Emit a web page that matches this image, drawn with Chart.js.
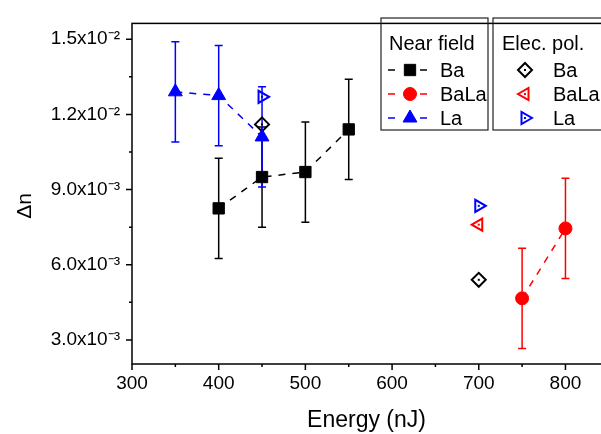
<!DOCTYPE html>
<html>
<head>
<meta charset="utf-8">
<script src="https://cdn.jsdelivr.net/npm/chart.js@4.4.1/dist/chart.umd.min.js"></script>
<style>
  html, body { margin: 0; padding: 0; background: #fff; }
  #wrap { width: 601px; height: 434px; }
</style>
</head>
<body>
<div id="wrap"><canvas id="chart" width="601" height="434"></canvas></div>
<script>
// Near field series (with error bars)
const nfBaX = [400, 450, 500, 550];
const nfBaY = [0.00825, 0.0095, 0.0097, 0.0114];
const nfBaErr = [0.002, 0.002, 0.002, 0.002];

const nfBaLaX = [750, 800];
const nfBaLaY = [0.00466, 0.00745];
const nfBaLaErr = [0.002, 0.002];

const nfLaX = [350, 400, 450];
const nfLaY = [0.0129, 0.01275, 0.0111];
const nfLaErr = [0.002, 0.002, 0.002];

// Elec. pol. series
const epBaX = [450, 700];
const epBaY = [0.0116, 0.0054];
const epBaLaX = [700];
const epBaLaY = [0.0076];
const epLaX = [450, 700];
const epLaY = [0.0127, 0.00835];

// axis ticks
const xTicks = [300, 400, 500, 600, 700, 800];
const yTicks = [0.003, 0.006, 0.009, 0.012, 0.015];
const yTickLabels = ['3.0x10\u207B\u00B3', '6.0x10\u207B\u00B3', '9.0x10\u207B\u00B3', '1.2x10\u207B\u00B2', '1.5x10\u207B\u00B2'];

const FONT = "'Liberation Sans', Arial, sans-serif";
Chart.defaults.font.family = FONT;
Chart.defaults.color = '#000';

function pts(xs, ys) {
    return xs.map((x, i) => ({ x: x, y: ys[i] }));
}

// error bars drawn under the markers
const errorBars = {
    id: 'errorBars',
    beforeDatasetsDraw(chart) {
        const ctx = chart.ctx;
        const xs = chart.scales.x, ys = chart.scales.y;
        chart.data.datasets.forEach(ds => {
            if (!ds.errors) return;
            ctx.save();
            ctx.strokeStyle = ds.borderColor;
            ctx.lineWidth = 1.5;
            ds.data.forEach((p, j) => {
                const x = xs.getPixelForValue(p.x);
                const yTop = ys.getPixelForValue(p.y + ds.errors[j]);
                const yBot = ys.getPixelForValue(p.y - ds.errors[j]);
                ctx.beginPath();
                ctx.moveTo(x, yTop); ctx.lineTo(x, yBot);
                ctx.moveTo(x - 4, yTop); ctx.lineTo(x + 4, yTop);
                ctx.moveTo(x - 4, yBot); ctx.lineTo(x + 4, yBot);
                ctx.stroke();
            });
            ctx.restore();
        });
    }
};

// frame, tick marks, y title and the two legend boxes
const frameAndLegend = {
    id: 'frameAndLegend',
    afterDraw(chart) {
        const ctx = chart.ctx;
        const a = chart.chartArea;
        const xs = chart.scales.x, ys = chart.scales.y;
        ctx.save();
        ctx.strokeStyle = '#000';
        ctx.lineWidth = 1.5;
        ctx.strokeRect(a.left, a.top, a.right - a.left + 2, a.bottom - a.top);

        // x ticks (major 100, minor 50)
        ctx.beginPath();
        for (let v = 300; v <= 840; v += 50) {
            const px = xs.getPixelForValue(v);
            const len = v % 100 === 0 ? 6 : 3;
            ctx.moveTo(px, a.bottom); ctx.lineTo(px, a.bottom + len);
        }
        // y ticks (major 3e-3, minor 1.5e-3)
        for (let k = 2; k <= 10; k++) {
            const v = k * 0.0015;
            const py = ys.getPixelForValue(v);
            const len = k % 2 === 0 ? 6 : 3;
            ctx.moveTo(a.left, py); ctx.lineTo(a.left - len, py);
        }
        ctx.stroke();

        // y axis title
        ctx.save();
        ctx.translate(25, 206);
        ctx.rotate(-Math.PI / 2);
        ctx.fillStyle = '#000';
        ctx.font = '21px ' + FONT;
        ctx.textAlign = 'center';
        ctx.textBaseline = 'middle';
        ctx.fillText('\u0394n', 0, 0);
        ctx.restore();

        // legend boxes
        ctx.lineWidth = 1.2;
        ctx.strokeStyle = '#222';
        ctx.strokeRect(381, 18, 107, 112);
        ctx.strokeRect(493, 18, 115, 112);

        ctx.fillStyle = '#000';
        ctx.font = '20px ' + FONT;
        ctx.textBaseline = 'middle';
        ctx.fillText('Near field', 389, 44);
        ctx.fillText('Elec. pol.', 502, 44);

        const rows = [70, 94, 118];
        const groups = [
            { sets: [0, 1, 2], sym: 410, text: 440, dash: true },
            { sets: [3, 4, 5], sym: 525, text: 553, dash: false }
        ];
        groups.forEach(g => {
            g.sets.forEach((di, r) => {
                const ds = chart.data.datasets[di];
                const y = rows[r];
                ctx.strokeStyle = ds.borderColor;
                ctx.lineWidth = 1.5;
                if (g.dash) {
                    ctx.beginPath();
                    ctx.moveTo(g.sym - 22, y); ctx.lineTo(g.sym - 15, y);
                    ctx.moveTo(g.sym + 10, y); ctx.lineTo(g.sym + 17, y);
                    ctx.stroke();
                }
                ctx.fillStyle = ds.pointBackgroundColor;
                ctx.lineWidth = ds.pointBorderWidth;
                Chart.helpers.drawPoint(ctx, {
                    pointStyle: ds.pointStyle,
                    rotation: ds.pointRotation || 0,
                    radius: ds.pointRadius,
                    borderWidth: ds.pointBorderWidth
                }, g.sym, y);
                if (ds.centerDot) {
                    ctx.fillStyle = ds.borderColor;
                    ctx.fillRect(g.sym - 1, y - 1, 2, 2);
                }
                ctx.fillStyle = '#000';
                ctx.font = '20px ' + FONT;
                ctx.fillText(ds.label, g.text, y + 1);
            });
        });

        // centre dots of the open symbols in the plot
        chart.data.datasets.forEach(ds => {
            if (!ds.centerDot) return;
            ctx.fillStyle = ds.borderColor;
            ds.data.forEach(p => {
                ctx.fillRect(xs.getPixelForValue(p.x) - 1, ys.getPixelForValue(p.y) - 1, 2, 2);
            });
        });
        ctx.restore();
    }
};

function nearField(label, xs, ys, errs, color, style, radius) {
    return {
        label: label,
        data: pts(xs, ys),
        errors: errs,
        showLine: true,
        borderColor: color,
        borderWidth: 1.5,
        borderDash: [7, 7],
        pointStyle: style,
        pointRadius: radius,
        pointBackgroundColor: color,
        pointBorderColor: color,
        pointBorderWidth: 1
    };
}

function elecPol(label, xs, ys, color, style, rotation) {
    return {
        label: label,
        data: pts(xs, ys),
        showLine: false,
        borderColor: color,
        pointStyle: style,
        pointRotation: rotation,
        rotation: rotation,
        pointRadius: 7,
        pointBackgroundColor: 'rgba(255,255,255,0)',
        pointBorderColor: color,
        pointBorderWidth: 2,
        centerDot: true
    };
}

const ctx = document.getElementById('chart').getContext('2d');
new Chart(ctx, {
    type: 'scatter',
    data: {
        datasets: [
            nearField('Ba', nfBaX, nfBaY, nfBaErr, '#000000', 'rect', 8),
            nearField('BaLa', nfBaLaX, nfBaLaY, nfBaLaErr, '#ff0000', 'circle', 6.5),
            nearField('La', nfLaX, nfLaY, nfLaErr, '#0000ff', 'triangle', 8),
            elecPol('Ba', epBaX, epBaY, '#000000', 'rectRot', 0),
            elecPol('BaLa', epBaLaX, epBaLaY, '#ff0000', 'triangle', -90),
            elecPol('La', epLaX, epLaY, '#0000ff', 'triangle', 90)
        ]
    },
    options: {
        responsive: false,
        animation: false,
        layout: { autoPadding: false, padding: { top: 23, right: 0, left: 0, bottom: 0 } },
        plugins: {
            legend: { display: false },
            tooltip: { enabled: false }
        },
        scales: {
            x: {
                type: 'linear',
                min: 300,
                max: 841,
                grid: { display: false, drawTicks: false },
                border: { display: false },
                afterBuildTicks: scale => { scale.ticks = xTicks.map(v => ({ value: v })); },
                afterFit: scale => { scale.height = 70; },
                ticks: { font: { size: 19 }, padding: 8, maxRotation: 0 },
                title: { display: true, text: 'Energy (nJ)', font: { size: 23 }, padding: { top: 0, bottom: 0 } }
            },
            y: {
                type: 'linear',
                min: 0.00204,
                max: 0.01563,
                grid: { display: false, drawTicks: false },
                border: { display: false },
                afterBuildTicks: scale => { scale.ticks = yTicks.map(v => ({ value: v })); },
                afterFit: scale => { scale.width = 132; },
                ticks: {
                    font: { size: 19 },
                    padding: 12,
                    callback: (value, index) => yTickLabels[index]
                }
            }
        }
    },
    plugins: [errorBars, frameAndLegend]
});
</script>
</body>
</html>
